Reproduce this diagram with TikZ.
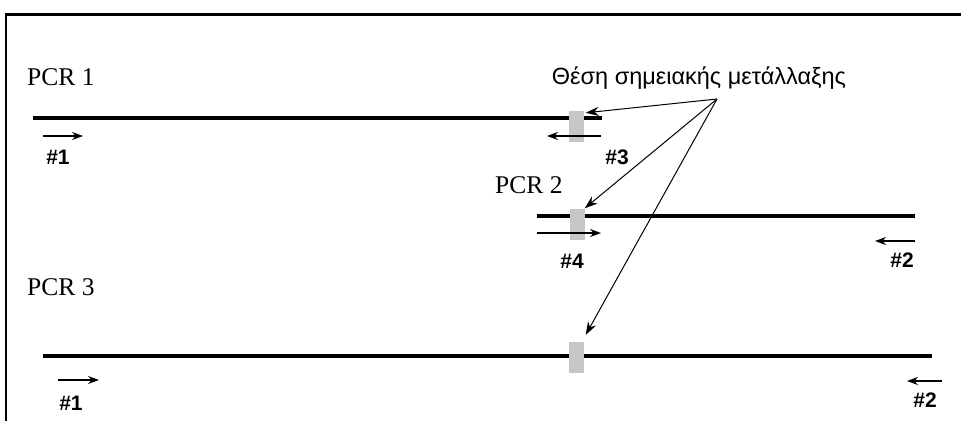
\documentclass[tikz,border=0pt]{standalone}
\usepackage{fontspec}
\setmainfont{Liberation Serif}
\setsansfont{Liberation Sans}
\usetikzlibrary{arrows.meta,calc}

\tikzset{
    strand/.style={line width=3.4pt},
    primer/.style={-{Stealth[length=11pt,width=8pt]},line width=1.4pt},
    pointer/.style={-{Stealth[length=13pt,width=9pt]},line width=1pt},
    sitebox/.style={fill=gray!45,minimum width=15pt,minimum height=31pt,inner sep=0pt},
    tag/.style={font=\sffamily\bfseries\fontsize{21}{21}\selectfont},
    pcrlabel/.style={font=\fontsize{25.5}{25.5}\selectfont,anchor=west,inner sep=0pt}
}

\begin{document}
\begin{tikzpicture}[x=1pt,y=-1pt]
    \useasboundingbox (0,0) rectangle (961,421);
    \draw[line width=2.5pt] (6,421) -- (6,14.7) -- (961,14.7);

    % PCR 1
    \node[pcrlabel] (pcrA) at (27,77) {PCR 1};
    \coordinate (lineAs) at (33,118);
    \coordinate (lineAe) at (602,118);
    \draw[strand] (lineAs) -- (lineAe);
    \node[sitebox] (boxA) at (576,126.5) {};

    % PCR 2
    \node[pcrlabel] (pcrB) at (495,185) {PCR 2};
    \coordinate (lineBs) at (537,216);
    \coordinate (lineBe) at (915,216);
    \draw[strand] (lineBs) -- (lineBe);
    \node[sitebox] (boxB) at (577,224) {};

    % PCR 3
    \node[pcrlabel] (pcrC) at (27,287) {PCR 3};
    \coordinate (lineCs) at (43,356);
    \coordinate (lineCe) at (932,356);
    \draw[strand] (lineCs) -- (lineCe);
    \node[sitebox] (boxC) at (576,357.5) {};

    % primers
    \foreach \nm/\xs/\xe/\ya/\xt/\yt/\lab in {pA/43/83/136/58/157/1, pB/601/547/136/617/157/3,
        pC/537/601/233/572/261/4, pD/915/875/241/902/260/2,
        pE/58/99/380/71/403/1, pF/942/907/381/925/400/2}{
        \coordinate (\nm s) at (\xs,\ya);
        \coordinate (\nm e) at (\xe,\ya);
        \draw[primer] (\nm s) -- (\nm e);
        \node[tag] (\nm t) at (\xt,\yt) {\#\lab};
    }

    % mutation site
    \node[font=\sffamily\fontsize{23.5}{23.5}\selectfont] (site) at (699,78) {Θέση σημειακής μετάλλαξης};
    \coordinate (apex) at (717,99);
    \draw[pointer] (apex) -- ($(boxA.north east)+(2,2)$);
    \draw[pointer] (apex) -- (boxB.north east);
    \draw[pointer] (apex) -- ($(boxC.north east)+(2,-7)$);
\end{tikzpicture}
\end{document}
